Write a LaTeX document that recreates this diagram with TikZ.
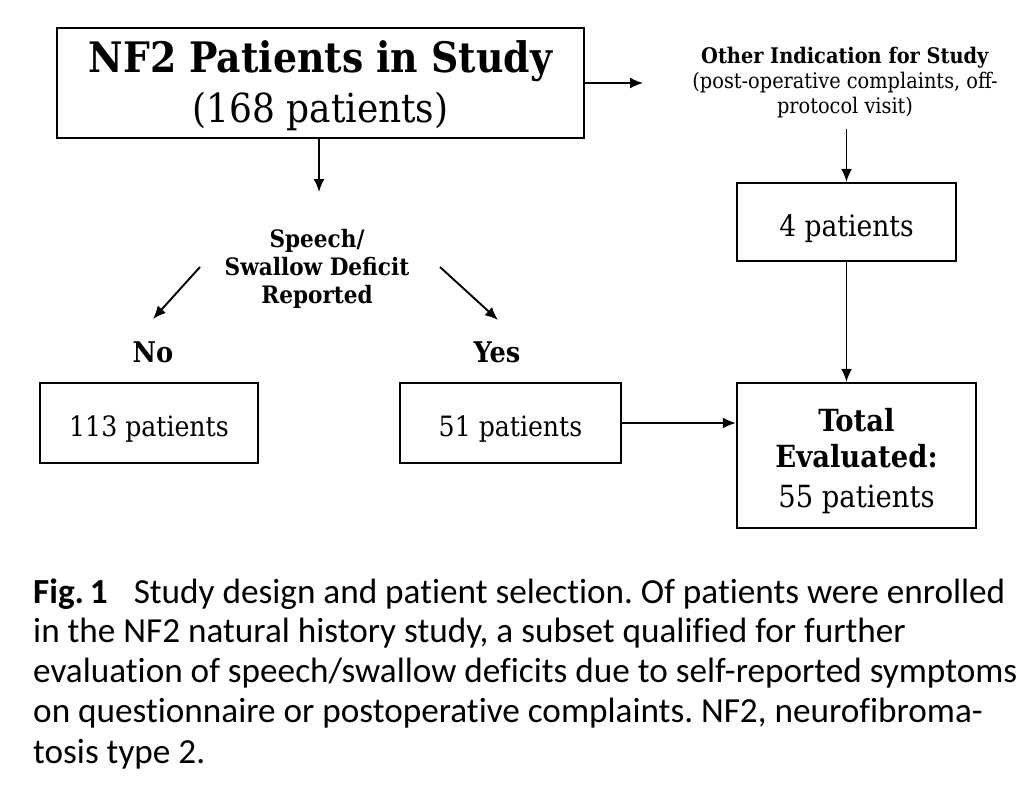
\documentclass[tikz,border=0pt]{standalone}
\usepackage{fontspec}
\setmainfont{DejaVu Serif Condensed}
\newfontfamily\capfont[Ligatures={NoCommon}]{Carlito}
\usetikzlibrary{arrows.meta}
\frenchspacing
\begin{document}
\begin{tikzpicture}[x=1pt,y=-1pt,
  box/.style={draw, line width=2.2pt, inner sep=0pt, align=center},
  arr/.style={-{Latex[length=13pt,width=11pt]}, line width=1.9pt},
  lbl/.style={inner sep=0pt, align=center},
  capline/.style={anchor=base west, inner sep=0pt, font=\capfont\fontsize{35.2}{40}\selectfont}]
\useasboundingbox[fill=white] (0,0) rectangle (1036,789);

% boxes
\node[box, minimum width=527pt, minimum height=110pt, font=\fontsize{40}{50}\selectfont]
  (top) at (320.5,83) {\rule{0pt}{38pt}{\fontsize{42}{50}\selectfont\bfseries NF2 Patients in Study}\\(168 patients)};
\node[box, minimum width=219pt, minimum height=78pt, font=\fontsize{29.5}{34}\selectfont,
  text height=36pt, text depth=7pt] (four) at (846.5,222) {4 patients};
\node[box, minimum width=218pt, minimum height=80pt, font=\fontsize{28}{34}\selectfont,
  text height=33pt, text depth=7pt] (b113) at (149,423) {113 patients};
\node[box, minimum width=221pt, minimum height=80pt, font=\fontsize{28}{34}\selectfont,
  text height=33pt, text depth=7pt] (b51) at (510.5,423) {51 patients};
\node[box, minimum width=239pt, minimum height=145pt, font=\fontsize{30.5}{36}\selectfont]
  (total) at (856.5,455.5) {\rule{0pt}{34pt}\textbf{Total}\\\textbf{Evaluated:}\\[4pt]55 patients};

% labels
\node[lbl, font=\fontsize{21.5}{25}\selectfont] (other) at (845,83)
  {\textbf{Other Indication for Study}\\(post-operative complaints, off-\\protocol visit)};
\node[lbl, font=\bfseries\fontsize{24}{28}\selectfont] (speech) at (317,269)
  {Speech/\\Swallow Deficit\\Reported};
\node[inner sep=0pt, anchor=base, font=\bfseries\fontsize{28.5}{32}\selectfont] (no) at (153,362) {No};
\node[inner sep=0pt, anchor=base, font=\bfseries\fontsize{28.5}{32}\selectfont] (yes) at (497,362) {Yes};

% free arrow ends
\coordinate (sa) at (319,192);
\coordinate (oa) at (643,83);
\coordinate (n1) at (200,267);
\coordinate (n2) at (153,319);
\coordinate (y1) at (440,267);
\coordinate (y2) at (498,320);

% connectors
\draw[arr] (sa |- top.south) -- (sa);
\draw[arr] (top.east |- oa) -- (oa);
\draw[arr] (n1) -- (n2);
\draw[arr] (y1) -- (y2);
\draw[arr, shorten <=10pt] (four.north |- other.south) -- (four.north);
\draw[arr] (four.south) -- (four.south |- total.north);
\draw[arr] (b51.east) -- (b51.east -| total.west);

% caption
\node[capline] (c1) at (33,603) {\textbf{Fig.\,1}\hspace{26pt}Study design and patient selection. Of patients were enrolled};
\node[capline] (c2) at (33,642) {in the NF2 natural history study, a subset qualified for further};
\node[capline] (c3) at (33,682) {evaluation of speech/swallow deficits due to self-reported symptoms};
\node[capline] (c4) at (33,722) {on questionnaire or postoperative complaints. NF2, neurofibroma-};
\node[capline] (c5) at (33,763) {tosis type 2.};
\end{tikzpicture}
\end{document}
